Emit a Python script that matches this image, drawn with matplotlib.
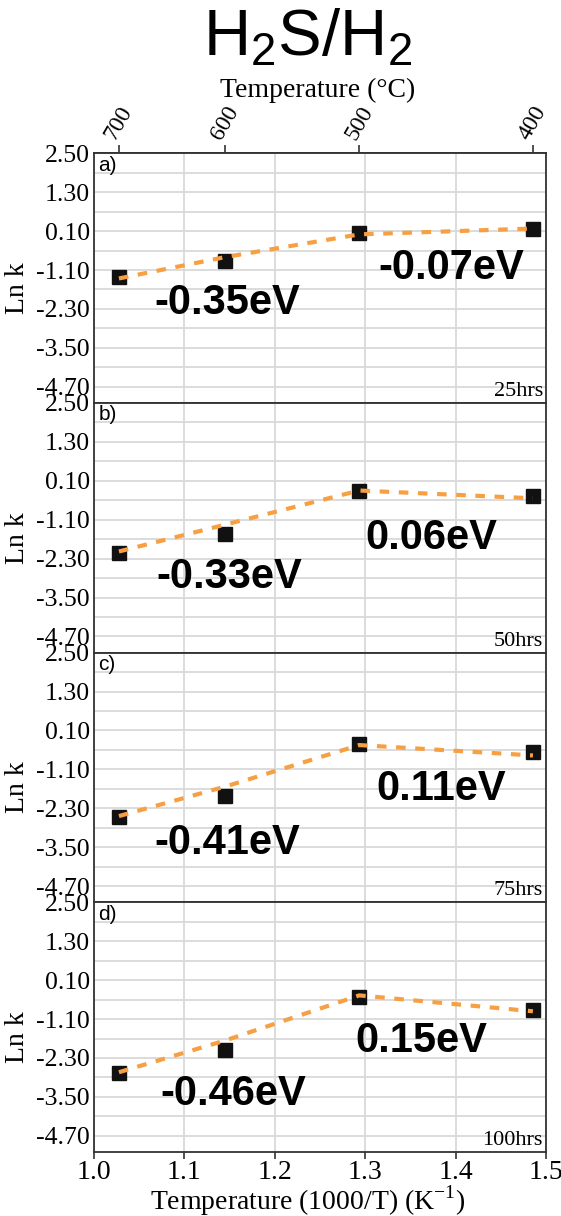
import numpy as np
import matplotlib
matplotlib.use("Agg")
import matplotlib.pyplot as plt
from matplotlib.ticker import FixedLocator

plt.rcParams["mathtext.fontset"] = "custom"
plt.rcParams["mathtext.rm"] = "Liberation Serif"
plt.rcParams["mathtext.sf"] = "Liberation Sans"

# ---------------- data ----------------
temps_C = [700, 600, 500, 400]
x_inv = [1000.0 / (t + 273.15) for t in temps_C]

hours = ["25hrs", "50hrs", "75hrs", "100hrs"]
panel_tags = ["a)", "b)", "c)", "d)"]

lnk_25 = [-1.32, -0.82, 0.03, 0.18]
fit_25 = [-1.36, -0.70, 0.00, 0.18]
lnk_50 = [-2.13, -1.53, -0.23, -0.38]
fit_50 = [-2.08, -1.25, -0.20, -0.44]
lnk_75 = [-2.57, -1.92, -0.31, -0.57]
fit_75 = [-2.54, -1.63, -0.35, -0.67]
lnk_100 = [-2.76, -2.04, -0.42, -0.83]
fit_100 = [-2.74, -1.76, -0.37, -0.86]

ea_low = ["-0.35eV", "-0.33eV", "-0.41eV", "-0.46eV"]
ea_high = ["-0.07eV", "0.06eV", "0.11eV", "0.15eV"]

y_ticks = [2.50, 1.30, 0.10, -1.10, -2.30, -3.50, -4.70]
x_ticks = [1.0, 1.1, 1.2, 1.3, 1.4, 1.5]

lnk_all = [lnk_25, lnk_50, lnk_75, lnk_100]
fit_all = [fit_25, fit_50, fit_75, fit_100]

# ------------- layout ----------------
W, H = 561, 1216
fig = plt.figure(figsize=(W / 100, H / 100), dpi=100)

SERIF = ["Liberation Serif", "DejaVu Serif"]
SANS = ["Liberation Sans", "DejaVu Sans"]

left = 94 / W
right = 546 / W
top_px = 153.3
bot_px = 1152.0
ph = (bot_px - top_px) / 4

low_pos = [(1.1475, -2.12), (1.150, -2.86), (1.147, -3.37), (1.154, -3.41)]
high_pos = [(1.395, -1.03), (1.373, -1.65), (1.384, -1.71), (1.362, -1.79)]

orange = "#f7a043"
grid_c = "#d9d9d9"
spine_c = "#333333"

axes = []
for i in range(4):
    y0 = (H - (top_px + (i + 1) * ph)) / H
    ax = fig.add_axes([left, y0, right - left, ph / H])
    axes.append(ax)
    ax.set_xlim(1.0, 1.5)
    ax.set_ylim(-5.2, 2.5)

    ax.yaxis.set_major_locator(FixedLocator(y_ticks))
    ax.yaxis.set_minor_locator(FixedLocator([v - 0.6 for v in y_ticks]))
    ax.set_yticklabels([f"{v:.2f}" for v in y_ticks], fontfamily=SERIF, fontsize=18.5)
    ax.tick_params(axis="y", which="both", length=0, pad=3)

    ax.xaxis.set_major_locator(FixedLocator(x_ticks))
    ax.grid(True, which="major", axis="x", color=grid_c, lw=1.3, zorder=0)
    ax.grid(True, which="both", axis="y", color=grid_c, lw=1.3, zorder=0)
    ax.set_axisbelow(True)

    if i < 3:
        ax.tick_params(axis="x", which="both", length=0, labelbottom=False)
    else:
        ax.set_xticklabels([f"{v:.1f}" for v in x_ticks], fontfamily=SERIF, fontsize=20)
        ax.tick_params(axis="x", length=5, width=1.2, color=spine_c, pad=1, direction="out")

    for sp in ax.spines.values():
        sp.set_color(spine_c)
        sp.set_linewidth(1.3)

    ax.plot(x_inv, lnk_all[i], linestyle="none", marker="s", markersize=10.5,
            color="#111111", zorder=3)
    ax.plot(x_inv, fit_all[i], linestyle=(0, (2.3, 2.3)), lw=3.0, color=orange,
            zorder=4, dash_capstyle="butt")

    ax.text(low_pos[i][0], low_pos[i][1], ea_low[i], ha="center", va="center",
            fontfamily=SANS, fontweight="bold", fontsize=30, zorder=5)
    ax.text(high_pos[i][0], high_pos[i][1], ea_high[i], ha="center", va="center",
            fontfamily=SANS, fontweight="bold", fontsize=30, zorder=5)

    ax.text(0.01, 0.99, panel_tags[i], transform=ax.transAxes, ha="left", va="top",
            fontfamily=SANS, fontsize=15)
    ax.text(0.993, 0.008, hours[i], transform=ax.transAxes, ha="right", va="bottom",
            fontfamily=SERIF, fontsize=16)

    ax.set_ylabel("Ln k", fontfamily=SERIF, fontsize=20)
    ax.yaxis.set_label_coords(-0.142, 0.46)

# bottom x label
fig.text(308 / W, 1 - 1201 / H, "Temperature (1000/T) (K$^{\\mathrm{-1}}$)", ha="center",
         va="center", fontfamily=SERIF, fontsize=20)

# top temperature axis
top_ax = axes[0].secondary_xaxis("top")
top_ax.set_xticks(x_inv)
top_ax.set_xticklabels([str(t) for t in temps_C], fontfamily=SERIF, fontsize=17,
                       rotation=60, ha="center", va="bottom")
top_ax.tick_params(axis="x", length=6, width=1.2, color=spine_c, pad=1)
top_ax.spines["top"].set_color(spine_c)
top_ax.spines["top"].set_linewidth(1.3)

fig.text(318 / W, 1 - 90 / H, "Temperature (°C)", ha="center", va="center",
         fontfamily=SERIF, fontsize=20)
fig.text(308 / W, 1 - 38 / H, "$\\mathsf{H_2S/H_2}$", ha="center", va="center",
         fontfamily=SANS, fontsize=47)

fig.savefig("out.png", dpi=100)
